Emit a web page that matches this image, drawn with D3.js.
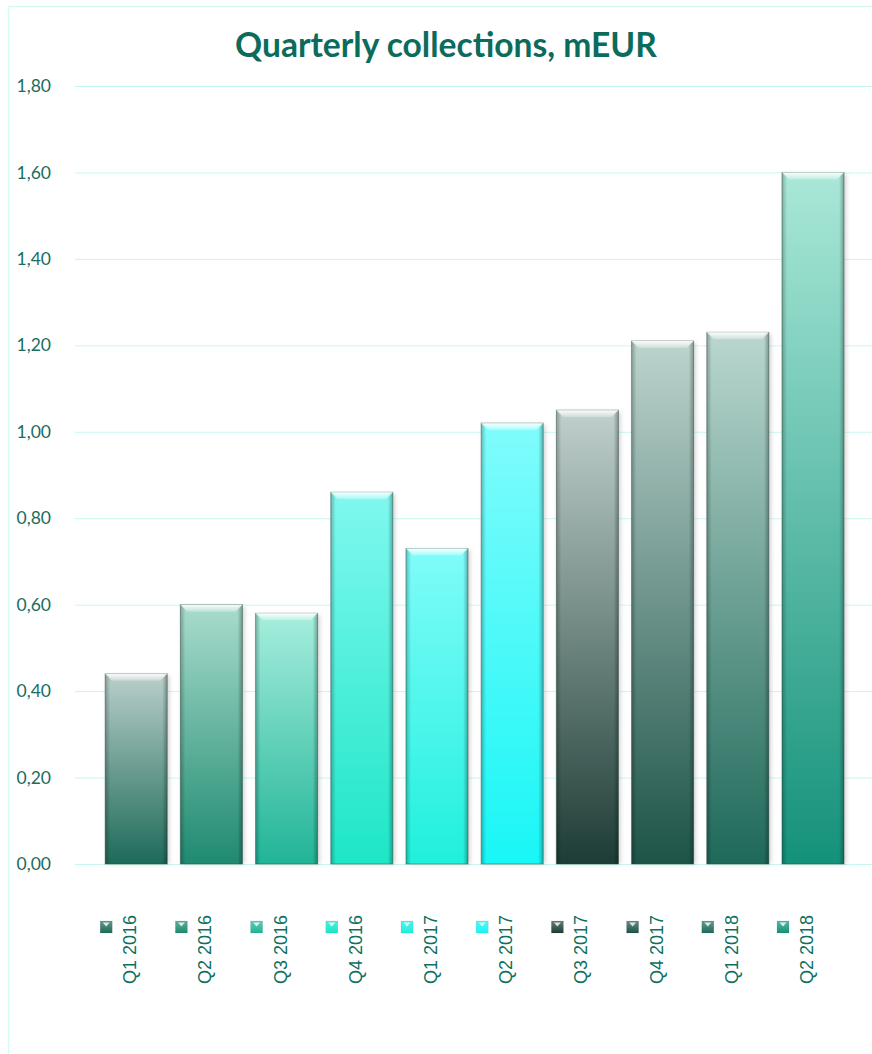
<!DOCTYPE html>
<html>
<head>
<meta charset="utf-8">
<script src="https://cdn.jsdelivr.net/npm/d3@7"></script>
<style>
  body { margin: 0; background: #fff; }
  svg { display: block; }
</style>
</head>
<body>
<svg id="chart" width="872" height="1054"></svg>
<script>
// data
const quarters = ['Q1 2016', 'Q2 2016', 'Q3 2016', 'Q4 2016', 'Q1 2017',
                  'Q2 2017', 'Q3 2017', 'Q4 2017', 'Q1 2018', 'Q2 2018']
const collections = [0.44, 0.60, 0.58, 0.86, 0.73, 1.02, 1.05, 1.21, 1.23, 1.60]
const topColors = ['#b9cfca', '#a9dccd', '#a6eedd', '#80f8f0', '#80fcfa',
                   '#80fcfc', '#c0d0cc', '#bdd4ce', '#bad7cf', '#aae8d8']
const bottomColors = ['#1d6a59', '#1f8a70', '#21b497', '#1de6c6', '#1ff0dc',
                      '#19f6f6', '#1d3c35', '#1d5348', '#1e6959', '#14917a']
const yTicks = [0, 0.2, 0.4, 0.6, 0.8, 1.0, 1.2, 1.4, 1.6, 1.8]

const svg = d3.select('#chart')
const defs = svg.append('defs')

const x = d3.scaleBand()
  .domain(quarters)
  .range([98.6, 850.6])
  .paddingInner(0.175)
  .paddingOuter(0.0875)

const y = d3.scaleLinear()
  .domain([0, 1.8])
  .range([864, 86])

const fmt = v => d3.format('.2f')(v).replace('.', ',')

// outer frame
svg.append('path')
  .attr('d', 'M8.5,1054 L8.5,6.5 L872,6.5')
  .attr('fill', 'none')
  .attr('stroke', '#d4fbf5')
  .attr('stroke-width', 1.5)

// title
const title = svg.append('text')
  .attr('x', 446)
  .attr('y', 57)
  .attr('text-anchor', 'middle')
  .attr('font-family', 'Lato, "Open Sans", sans-serif')
  .attr('font-weight', 'bold')
  .attr('font-size', 30)
  .attr('fill', '#0b6b5c')
  .text('Quarterly collections, mEUR')
const tw = title.node().getComputedTextLength()
title.attr('font-size', 30 * 422 / tw)

// gridlines + axis labels
const yAxis = d3.axisLeft(y)
  .tickValues(yTicks)
  .tickSize(-(872 - 75))
  .tickFormat(fmt)
  .tickPadding(24)

svg.append('g')
  .attr('transform', 'translate(75,0)')
  .call(yAxis)
  .call(g => g.select('.domain').remove())
  .call(g => g.selectAll('.tick line').attr('stroke', '#c6f8f1').attr('stroke-width', 1))
  .call(g => g.selectAll('.tick text')
    .attr('fill', '#1b6d61')
    .attr('font-family', 'Lato, "Open Sans", sans-serif')
    .attr('font-size', 17.5))

// gradients and shadow
quarters.forEach((q, i) => {
  const grad = defs.append('linearGradient')
    .attr('id', 'g' + i)
    .attr('x1', 0).attr('y1', 0).attr('x2', 0).attr('y2', 1)
  grad.append('stop').attr('offset', '0%').attr('stop-color', topColors[i])
  grad.append('stop').attr('offset', '100%').attr('stop-color', bottomColors[i])
})

const side = defs.append('linearGradient').attr('id', 'side')
side.append('stop').attr('offset', '0%').attr('stop-color', '#000').attr('stop-opacity', 0.25)
side.append('stop').attr('offset', '8%').attr('stop-color', '#000').attr('stop-opacity', 0)
side.append('stop').attr('offset', '92%').attr('stop-color', '#000').attr('stop-opacity', 0)
side.append('stop').attr('offset', '100%').attr('stop-color', '#000').attr('stop-opacity', 0.3)

const bevel = defs.append('linearGradient').attr('id', 'bevel')
  .attr('x1', 0).attr('y1', 0).attr('x2', 0).attr('y2', 1)
bevel.append('stop').attr('offset', '0%').attr('stop-color', '#fff').attr('stop-opacity', 0.95)
bevel.append('stop').attr('offset', '100%').attr('stop-color', '#fff').attr('stop-opacity', 0.25)

const blur = defs.append('filter').attr('id', 'shadow')
  .attr('x', '-20%').attr('y', '-5%').attr('width', '140%').attr('height', '110%')
blur.append('feGaussianBlur').attr('stdDeviation', 2)

const bars = svg.append('g')
  .selectAll('g')
  .data(quarters)
  .join('g')

bars.append('rect')
  .attr('x', d => x(d) + 2)
  .attr('y', (d, i) => y(collections[i]) + 2)
  .attr('width', x.bandwidth())
  .attr('height', (d, i) => y(0) - y(collections[i]) - 2)
  .attr('fill', '#999')
  .attr('opacity', 0.45)
  .attr('filter', 'url(#shadow)')

bars.append('rect')
  .attr('x', d => x(d))
  .attr('y', (d, i) => y(collections[i]))
  .attr('width', x.bandwidth())
  .attr('height', (d, i) => y(0) - y(collections[i]))
  .attr('fill', (d, i) => `url(#g${i})`)

bars.append('rect')
  .attr('x', d => x(d))
  .attr('y', (d, i) => y(collections[i]))
  .attr('width', x.bandwidth())
  .attr('height', (d, i) => y(0) - y(collections[i]))
  .attr('fill', 'url(#side)')
  .attr('stroke', 'rgba(40,70,64,0.45)')
  .attr('stroke-width', 1)

// top bevel
bars.append('path')
  .attr('d', (d, i) => {
    const x0 = x(d), x1 = x(d) + x.bandwidth(), t = y(collections[i]), b = 7
    return `M${x0},${t} L${x1},${t} L${x1 - b},${t + b} L${x0 + b},${t + b} Z`
  })
  .attr('fill', 'url(#bevel)')

// legend
const legendColor = (i) => {
  const id = 'lg' + i
  const g = defs.append('linearGradient').attr('id', id)
    .attr('x1', 0).attr('y1', 0).attr('x2', 0).attr('y2', 1)
  g.append('stop').attr('offset', '0%').attr('stop-color', d3.interpolateRgb(topColors[i], bottomColors[i])(0.55))
  g.append('stop').attr('offset', '100%').attr('stop-color', bottomColors[i])
  return `url(#${id})`
}

const legend = svg.append('g')
  .selectAll('g')
  .data(quarters)
  .join('g')
  .attr('transform', d => `translate(${x(d) + x.bandwidth() / 2},0)`)

legend.append('rect')
  .attr('x', -36)
  .attr('y', 921)
  .attr('width', 12)
  .attr('height', 12)
  .attr('fill', (d, i) => legendColor(i))
  .attr('stroke', 'rgba(0,0,0,0.15)')
  .attr('stroke-width', 0.5)

legend.append('path')
  .attr('d', 'M-33.5,922.5 L-26.5,922.5 L-30,926.5 Z')
  .attr('fill', '#fff')
  .attr('opacity', 0.8)

legend.append('text')
  .attr('transform', 'translate(0,915) rotate(-90)')
  .attr('text-anchor', 'end')
  .attr('font-family', '"Liberation Sans", Arial, sans-serif')
  .attr('font-size', 18)
  .attr('fill', '#0d7060')
  .text(d => d)
</script>
</body>
</html>
